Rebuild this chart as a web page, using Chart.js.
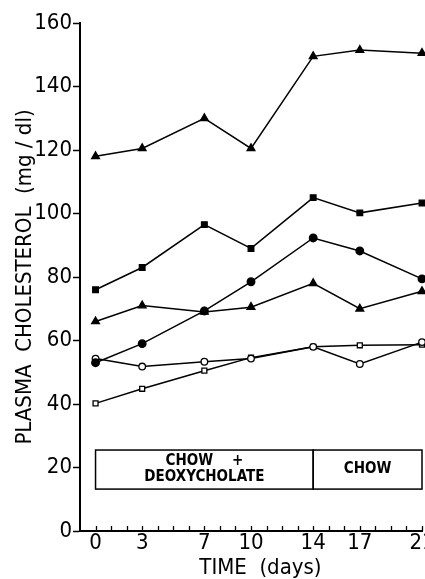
<!DOCTYPE html>
<html>
<head>
<meta charset="utf-8">
<script src="https://cdn.jsdelivr.net/npm/chart.js@4.4.1/dist/chart.umd.min.js"></script>
<style>
  html, body { margin: 0; padding: 0; background: #fff; overflow: hidden; }
  canvas { display: block; }
</style>
</head>
<body>
<canvas id="myChart" width="440" height="579"></canvas>
<script>
// days on the x axis and the labelled ticks
var days = [0, 3, 7, 10, 14, 17, 21];
var labelledDays = [0, 3, 7, 10, 14, 17, 21];

// plasma cholesterol, mg/dl, one array per group
var filledTriHigh = [118, 120.5, 130, 120.5, 149.5, 151.5, 150.5];
var filledSquares = [76, 83, 96.5, 89, 105, 100.2, 103.3];
var filledCircles = [53, 59, 69.3, 78.5, 92.3, 88.2, 79.4];
var filledTriLow = [66, 71, 69, 70.5, 78, 70, 75.5];
var openCircles = [54.3, 51.8, 53.3, 54.3, 58, 52.6, 59.5];
var openSquares = [40.2, 44.8, 50.5, 54.6, 58, 58.5, 58.7];

// diet periods shown in the box
var dietStart = [0, 14];
var dietEnd = [14, 21];
var dietText = [["CHOW    +", "DEOXYCHOLATE"], ["CHOW"]];
var boxTop = 25.5, boxBottom = 13.2;

var FONT = "'Liberation Sans Narrow', 'DejaVu Sans Condensed', sans-serif";

function pts(vals) {
  return days.map(function (d, i) { return {x: d, y: vals[i]}; });
}

function series(label, vals, style, filled, r) {
  return {
    label: label,
    data: pts(vals),
    borderColor: '#000',
    borderWidth: 1.5,
    pointStyle: style,
    pointRadius: r,
    pointBorderWidth: 1.3,
    pointBorderColor: '#000',
    pointBackgroundColor: filled ? '#000' : '#fff',
    tension: 0,
    clip: false
  };
}

var extras = {
  id: 'extras',
  afterDraw: function (chart) {
    var c = chart.ctx, xs = chart.scales.x, ys = chart.scales.y;
    c.save();
    c.strokeStyle = '#000';
    c.fillStyle = '#000';
    // inward day ticks
    c.lineWidth = 1.3;
    for (var d = 0; d <= 21; d++) {
      var px = Math.round(xs.getPixelForValue(d)) + 0.5;
      c.beginPath();
      c.moveTo(px, xs.top);
      c.lineTo(px, xs.top - 5);
      c.stroke();
    }
    // diet box
    var y1 = ys.getPixelForValue(boxTop), y2 = ys.getPixelForValue(boxBottom);
    c.lineWidth = 1.5;
    c.font = 'bold 15px ' + FONT;
    c.textAlign = 'center';
    c.textBaseline = 'middle';
    for (var i = 0; i < dietStart.length; i++) {
      var x1 = xs.getPixelForValue(dietStart[i]), x2 = xs.getPixelForValue(dietEnd[i]);
      c.strokeRect(x1, y1, x2 - x1, y2 - y1);
      var lines = dietText[i], mid = (y1 + y2) / 2, cx = (x1 + x2) / 2;
      for (var j = 0; j < lines.length; j++) {
        c.fillText(lines[j], cx, mid + (j - (lines.length - 1) / 2) * 16);
      }
    }
    c.restore();
  }
};

var ctx = document.getElementById('myChart');
var myLineChart = new Chart(ctx, {
  type: 'line',
  data: {
    datasets: [
      series('a', filledTriHigh, 'triangle', true, 4.5),
      series('b', filledSquares, 'rect', true, 4),
      series('c', filledCircles, 'circle', true, 3.8),
      series('d', filledTriLow, 'triangle', true, 4.5),
      series('e', openCircles, 'circle', false, 3.3),
      series('f', openSquares, 'rect', false, 3.5)
    ]
  },
  options: {
    responsive: false,
    animation: false,
    devicePixelRatio: 1,
    layout: { padding: { top: 23, right: 18, left: 0, bottom: 0 } },
    plugins: { legend: { display: false }, tooltip: { enabled: false } },
    scales: {
      x: {
        type: 'linear',
        min: -1,
        max: 21,
        afterFit: function (s) { s.height = 48; },
        border: { color: '#000', width: 2 },
        grid: { drawOnChartArea: false, drawTicks: false },
        ticks: {
          stepSize: 1,
          autoSkip: false,
          maxRotation: 0,
          padding: 1,
          color: '#000',
          font: { family: FONT, size: 22, lineHeight: 1 },
          callback: function (v) { return labelledDays.indexOf(v) >= 0 ? String(v) : ''; }
        },
        title: {
          display: true,
          text: '   TIME  (days)',
          color: '#000',
          padding: 0,
          font: { family: FONT, size: 22, lineHeight: 1 }
        }
      },
      y: {
        min: 0,
        max: 160,
        afterFit: function (s) { s.width = 80; },
        border: { color: '#000', width: 2 },
        grid: { drawOnChartArea: false, tickLength: 7, tickColor: '#000', tickWidth: 1.5 },
        ticks: {
          stepSize: 20,
          padding: 1,
          color: '#000',
          font: { family: FONT, size: 22, lineHeight: 1 }
        },
        title: {
          display: true,
          text: 'PLASMA  CHOLESTEROL  (mg / dl)',
          color: '#000',
          padding: { top: 14, bottom: 0 },
          font: { family: FONT, size: 22, lineHeight: 1 }
        }
      }
    }
  },
  plugins: [extras]
});
</script>
</body>
</html>
